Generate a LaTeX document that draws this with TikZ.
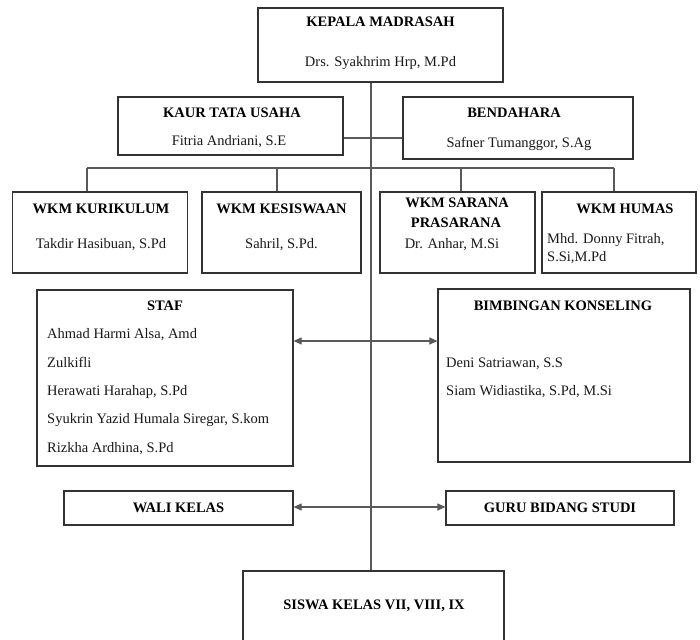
\documentclass[tikz,border=0pt]{standalone}
\usepackage{fontspec}
\setmainfont{Liberation Serif}
\usetikzlibrary{arrows.meta,fit}
\begin{document}
\begin{tikzpicture}[x=1pt,y=-1pt,
  box/.style={draw=black!80, line width=1.2pt, inner sep=0pt, fit={#1}},
  conn/.style={draw=black!65, line width=1.1pt},
  arr/.style={conn, {Triangle[length=8pt,width=7pt]}-{Triangle[length=8pt,width=7pt]}},
  ttl/.style={font=\fontsize{14.5}{16}\selectfont\bfseries, anchor=base, inner sep=0pt, text=black},
  nm/.style={font=\fontsize{14.5}{16}\selectfont, anchor=base, inner sep=0pt, text=black!90},
  nml/.style={nm, anchor=base west}]
\useasboundingbox (0,0) rectangle (700,639);
\clip (0,0) rectangle (700,639);
\fill[white] (0,0) rectangle (700,639);
% boxes
\node[box={(258,8) (503,82)}] (kepala) {};
\node[box={(118,97) (343,155)}] (kaur) {};
\node[box={(403,97) (633,159)}] (bend) {};
\node[box={(12.5,192) (187.5,273)}] (kur) {};
\node[box={(202,192) (361,273)}] (kes) {};
\node[box={(380,192) (535,273)}] (sar) {};
\node[box={(542,192) (696,273)}] (hum) {};
\node[box={(37,290) (293,466)}] (staf) {};
\node[box={(438,289) (690,462)}] (bk) {};
\node[box={(64,491) (293,525)}] (wali) {};
\node[box={(446,491) (674,525)}] (guru) {};
\node[box={(243,571) (504,660)}] (siswa) {};
% helper coordinates
\coordinate (tk) at (371,0);
\coordinate (h1) at (0,138);
\coordinate (d1) at (87,168);
\coordinate (d2) at (277,168);
\coordinate (d3) at (461,168);
\coordinate (d4) at (614,168);
\coordinate (a1) at (0,341);
\coordinate (a2) at (0,507);
% connectors
\draw[conn] (kepala.south -| tk) -- (siswa.north -| tk);
\draw[conn] (kaur.east |- h1) -- (bend.west |- h1);
\draw[conn] (d1) -- (d4);
\draw[conn] (d1) -- (kur.north -| d1);
\draw[conn] (d2) -- (kes.north -| d2);
\draw[conn] (d3) -- (sar.north -| d3);
\draw[conn] (d4) -- (hum.north -| d4);
\draw[arr] (staf.east |- a1) -- (bk.west |- a1);
\draw[arr] (wali.east |- a2) -- (guru.west |- a2);
% texts
\node[ttl] (t1) at (380.5,27) {KEPALA MADRASAH};
\node[nm] (n1) at (380.5,67) {Drs. Syakhrim Hrp, M.Pd};
\node[ttl] (t2) at (232,118) {KAUR TATA USAHA};
\node[nm] (n2) at (229,146) {Fitria Andriani, S.E};
\node[ttl] (t3) at (514,118) {BENDAHARA};
\node[nm] (n3) at (519,147) {Safner Tumanggor, S.Ag};
\node[ttl] (t4) at (101,213) {WKM KURIKULUM};
\node[nm] (n4) at (101,248) {Takdir Hasibuan, S.Pd};
\node[ttl] (t5) at (281.5,213) {WKM KESISWAAN};
\node[nm] (n5) at (281.5,248) {Sahril, S.Pd.};
\node[ttl] (t6) at (457,207) {WKM SARANA};
\node[ttl] (t6b) at (456,227) {PRASARANA};
\node[nm] (n6) at (452,248) {Dr. Anhar, M.Si};
\node[ttl] (t7) at (625,213) {WKM HUMAS};
\node[nml] (n7) at (547,243) {Mhd. Donny Fitrah,};
\node[nml] (n7b) at (547,261) {S.Si,M.Pd};
\node[ttl] (t8) at (165,310) {STAF};
\node[nml] (s1) at (47,338) {Ahmad Harmi Alsa, Amd};
\node[nml] (s2) at (47,367) {Zulkifli};
\node[nml] (s3) at (47,395) {Herawati Harahap, S.Pd};
\node[nml] (s4) at (47,423) {Syukrin Yazid Humala Siregar, S.kom};
\node[nml] (s5) at (47,452) {Rizkha Ardhina, S.Pd};
\node[ttl] (t9) at (563,310) {BIMBINGAN KONSELING};
\node[nml] (b1) at (446,367) {Deni Satriawan, S.S};
\node[nml] (b2) at (446,395) {Siam Widiastika, S.Pd, M.Si};
\node[ttl] (t10) at (178.5,512) {WALI KELAS};
\node[ttl] (t11) at (560,512) {GURU BIDANG STUDI};
\node[ttl] (t12) at (374,609) {SISWA KELAS VII, VIII, IX};
\end{tikzpicture}
\end{document}
